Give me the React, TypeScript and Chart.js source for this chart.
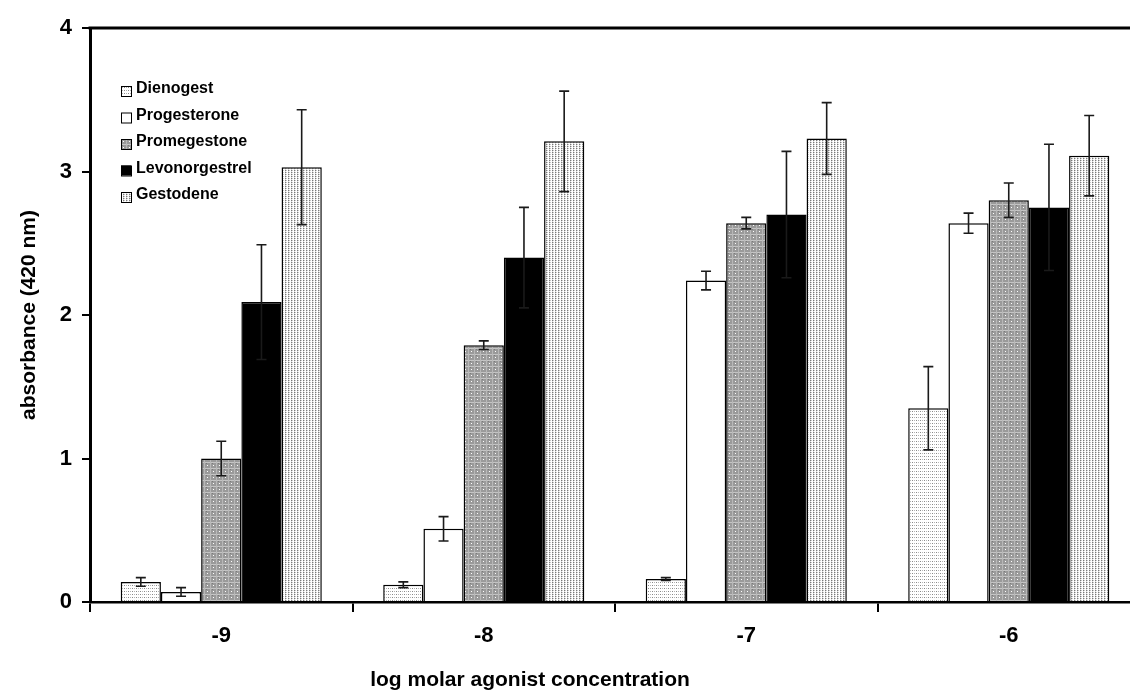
import React, { useEffect, useRef } from "react";
import { Chart, registerables } from "chart.js";

Chart.register(...registerables);

const categories = ["-9", "-8", "-7", "-6"];
const seriesNames = ["Dienogest", "Progesterone", "Promegestone", "Levonorgestrel", "Gestodene"];

const dienogest = [0.14, 0.12, 0.16, 1.35];
const dienogestErr = [0.03, 0.02, 0.01, 0.29];
const progesterone = [0.07, 0.51, 2.24, 2.64];
const progesteroneErr = [0.03, 0.085, 0.065, 0.07];
const promegestone = [1.0, 1.79, 2.64, 2.8];
const promegestoneErr = [0.12, 0.03, 0.04, 0.12];
const levonorgestrel = [2.09, 2.4, 2.7, 2.75];
const levonorgestrelErr = [0.4, 0.35, 0.44, 0.44];
const gestodene = [3.03, 3.21, 3.23, 3.11];
const gestodeneErr = [0.4, 0.35, 0.25, 0.28];

const yTicks = [0, 1, 2, 3, 4];
const xTitle = "log molar agonist concentration";
const yTitle = "absorbance (420 nm)";

const FONT = "'Liberation Sans', Arial, Helvetica, sans-serif";

function makePattern(kind: string): CanvasPattern | string {
  const c = document.createElement("canvas");
  const ctx = c.getContext("2d")!;
  if (kind === "dienogest") {
    c.width = 4; c.height = 3;
    ctx.fillStyle = "#ffffff"; ctx.fillRect(0, 0, 4, 3);
    ctx.fillStyle = "#8a8a8a"; ctx.fillRect(0, 0, 1, 1);
    ctx.fillStyle = "#b5b5b5"; ctx.fillRect(2, 0, 1, 1);
  } else if (kind === "promegestone") {
    c.width = 6; c.height = 6;
    ctx.fillStyle = "#9a9a9a"; ctx.fillRect(0, 0, 6, 6);
    ctx.fillStyle = "#c4c4c4"; ctx.fillRect(0, 0, 6, 1);
    ctx.fillStyle = "#b8b8b8"; ctx.fillRect(0, 0, 1, 6);
    ctx.fillStyle = "#ffffff"; ctx.fillRect(3, 3, 1, 1);
    ctx.fillStyle = "#7a7a7a"; ctx.fillRect(2, 1, 1, 1);
  } else if (kind === "gestodene") {
    c.width = 3; c.height = 2;
    ctx.fillStyle = "#ffffff"; ctx.fillRect(0, 0, 3, 2);
    ctx.fillStyle = "#7a7a7a"; ctx.fillRect(0, 0, 1, 1);
    ctx.fillStyle = "#c8c8c8"; ctx.fillRect(1, 0, 1, 1);
    ctx.fillStyle = "#dddddd"; ctx.fillRect(0, 1, 1, 1);
  } else if (kind === "black") {
    return "#000000";
  } else {
    return "#ffffff";
  }
  return ctx.createPattern(c, "repeat")!;
}

export default function App() {
  const ref = useRef<HTMLCanvasElement>(null);
  useEffect(() => {
    if (!ref.current) return;
    const values = [dienogest, progesterone, promegestone, levonorgestrel, gestodene];
    const errs = [dienogestErr, progesteroneErr, promegestoneErr, levonorgestrelErr, gestodeneErr];
    const kinds = ["dienogest", "white", "promegestone", "black", "gestodene"];
    const datasets = seriesNames.map((name, i) => ({
      label: name,
      data: values[i],
      backgroundColor: makePattern(kinds[i]) as any,
      borderColor: "#000000",
      borderWidth: 1.5,
      borderSkipped: "bottom" as const,
      categoryPercentage: 0.766,
      barPercentage: 1.0,
      errs: errs[i],
    }));

    const errorBars = {
      id: "errorBars",
      afterDatasetsDraw(chart: any) {
        const ctx = chart.ctx;
        const y = chart.scales.y;
        ctx.save();
        ctx.strokeStyle = "#1a1a1a";
        ctx.lineWidth = 1.6;
        chart.data.datasets.forEach((ds: any, i: number) => {
          const meta = chart.getDatasetMeta(i);
          meta.data.forEach((bar: any, j: number) => {
            const v = ds.data[j];
            const e = ds.errs[j];
            const x = bar.x;
            const yt = y.getPixelForValue(v + e);
            const yb = y.getPixelForValue(v - e);
            ctx.beginPath();
            ctx.moveTo(x, yt); ctx.lineTo(x, yb);
            ctx.moveTo(x - 5, yt); ctx.lineTo(x + 5, yt);
            ctx.moveTo(x - 5, yb); ctx.lineTo(x + 5, yb);
            ctx.stroke();
          });
        });
        ctx.restore();
      },
    };

    const decorations = {
      id: "decorations",
      afterDraw(chart: any) {
        const ctx = chart.ctx;
        const a = chart.chartArea;
        ctx.save();
        // top frame line
        ctx.strokeStyle = "#000";
        ctx.lineWidth = 3;
        ctx.beginPath();
        ctx.moveTo(a.left - 1.5, a.top);
        ctx.lineTo(a.right + 2, a.top);
        ctx.stroke();
        // legend
        ctx.font = `bold 16px ${FONT}`;
        ctx.textBaseline = "middle";
        ctx.textAlign = "left";
        chart.data.datasets.forEach((ds: any, i: number) => {
          const cy = 89 + 26.5 * i;
          ctx.fillStyle = ds.backgroundColor;
          ctx.fillRect(121, cy - 3, 10, 10);
          ctx.strokeStyle = "#000";
          ctx.lineWidth = 1;
          ctx.strokeRect(121.5, cy - 2.5, 10, 10);
          ctx.fillStyle = "#000";
          ctx.fillText(ds.label, 136, cy);
        });
        // axis titles
        ctx.font = `bold 21px ${FONT}`;
        ctx.textAlign = "center";
        ctx.fillText(xTitle, 530, 680);
        ctx.translate(29, (a.top + a.bottom) / 2);
        ctx.rotate(-Math.PI / 2);
        ctx.fillText(yTitle, 0, 0);
        ctx.restore();
      },
    };

    const chart = new Chart(ref.current, {
      type: "bar",
      data: { labels: categories, datasets: datasets as any },
      options: {
        animation: false,
        responsive: false,
        devicePixelRatio: 1,
        layout: { padding: { top: 28, right: 2, left: 0, bottom: 0 } },
        plugins: { legend: { display: false }, tooltip: { enabled: false } },
        scales: {
          x: {
            grid: { drawOnChartArea: false, drawTicks: true, tickLength: 10, color: "#000", lineWidth: 2, offset: true },
            border: { display: true, color: "#000", width: 2.5 },
            ticks: { color: "#000", font: { family: FONT, size: 22, weight: "bold" }, padding: 11 },
            afterFit(scale: any) { scale.height = 92; },
          },
          y: {
            min: 0,
            max: 4,
            afterBuildTicks(scale: any) { scale.ticks = yTicks.map((v) => ({ value: v })); },
            grid: { drawOnChartArea: false, drawTicks: true, tickLength: 8, color: "#000", lineWidth: 2 },
            border: { display: true, color: "#000", width: 3 },
            ticks: { color: "#000", font: { family: FONT, size: 22, weight: "bold" }, padding: 10 },
            afterFit(scale: any) { scale.width = 90; },
          },
        },
      },
      plugins: [errorBars, decorations],
    });
    return () => chart.destroy();
  }, []);

  return (
    <div style={{ position: "fixed", left: 0, top: 0, width: 1130, height: 694, overflow: "hidden", background: "#fff" }}>
      <canvas ref={ref} width={1142} height={694} style={{ display: "block", width: 1142, height: 694 }} />
    </div>
  );
}
